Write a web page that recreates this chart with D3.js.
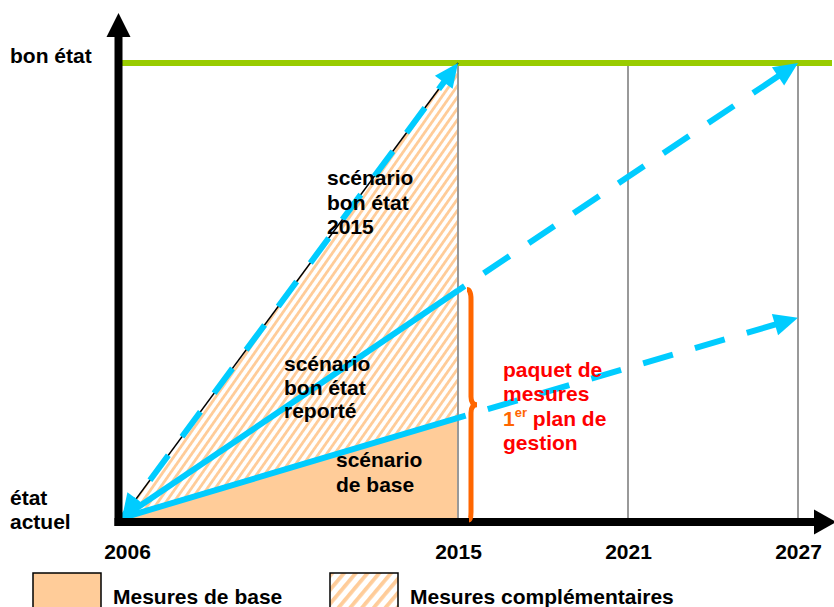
<!DOCTYPE html>
<html><head><meta charset="utf-8">
<script src="https://cdn.jsdelivr.net/npm/d3@7/dist/d3.min.js"></script>
<style>
body{margin:0;background:#fff}
svg{display:block}
text{font-family:"Liberation Sans",Arial,sans-serif;font-weight:bold;font-size:21px}
</style>
</head><body>
<svg id="c" width="834" height="607"></svg>
<script>
// ---- data ----
const years = [2006, 2015, 2021, 2027];
const tickLabels = ["2006", "2015", "2021", "2027"];
const goodStateValue = 100;
const currentStateValue = 0;
const scen2015Years = [2006, 2015];
const scen2015Values = [0, 100];
const scenYears = [2006, 2015, 2027];
const reporteValues = [0, 50, 100];
const baseValues = [0, 22, 44];
const labelGood = ["bon état"];
const labelCurrent = ["état", "actuel"];
const labelScen2015 = ["scénario", "bon état", "2015"];
const labelReporte = ["scénario", "bon état", "reporté"];
const labelBase = ["scénario", "de base"];
const legendLabels = ["Mesures de base", "Mesures complémentaires"];

// ---- setup ----
const svg = d3.select("#c");
const x = d3.scaleLinear().domain(years).range([122, 458, 628, 798]);
const y = d3.scaleLinear().domain([0, 100]).range([518, 63]);
const CYAN = "#00CCFF", PEACH = "#FFCC99", ORANGE = "#FF6600";

const defs = svg.append("defs");
function hatch(id, period, angle, sw) {
  const p = defs.append("pattern").attr("id", id).attr("patternUnits", "userSpaceOnUse")
    .attr("width", period).attr("height", period).attr("patternTransform", `rotate(${angle})`);
  p.append("rect").attr("width", period).attr("height", period).attr("fill", "#fff");
  p.append("rect").attr("width", sw).attr("height", period).attr("fill", PEACH);
}
hatch("hatch", 6.5, 35, 2.8);
hatch("hatchLeg", 9, 40, 3.8);

const line = d3.line().x(d => x(d[0])).y(d => y(d[1]));
const zip = (a, b) => a.map((v, i) => [v, b[i]]);

// fills
svg.append("path").attr("fill", "url(#hatch)")
  .attr("d", line([[2006, 0], [2015, scen2015Values[1]], [2015, baseValues[1]]]) + "Z");
svg.append("path").attr("fill", PEACH)
  .attr("d", line([[2006, 0], [2015, baseValues[1]], [2015, 0]]) + "Z");

// gridlines
svg.append("g").selectAll("line").data(years.slice(1)).join("line")
  .attr("x1", d => x(d)).attr("x2", d => x(d))
  .attr("y1", y(goodStateValue)).attr("y2", y(0))
  .attr("stroke", "#999").attr("stroke-width", 2);

// good state line
svg.append("line").attr("x1", x(2006)).attr("x2", 832)
  .attr("y1", y(goodStateValue)).attr("y2", y(goodStateValue))
  .attr("stroke", "#99CC00").attr("stroke-width", 6);

// thin black under 2015 scenario
svg.append("path").attr("d", line(zip(scen2015Years, scen2015Values)))
  .attr("stroke", "#000").attr("stroke-width", 1.5).attr("fill", "none");

// arrow helper
const AL = 24, AW = 22;
function head(p1, u, L = AL, W = AW) {
  const b = [p1[0] - u[0] * L, p1[1] - u[1] * L];
  const n = [-u[1], u[0]];
  svg.append("path").attr("fill", CYAN).attr("d",
    `M${p1[0]},${p1[1]}L${b[0] + n[0] * W / 2},${b[1] + n[1] * W / 2}L${b[0] - n[0] * W / 2},${b[1] - n[1] * W / 2}Z`);
}
function dir(p0, p1) {
  const dx = p1[0] - p0[0], dy = p1[1] - p0[1], l = Math.hypot(dx, dy);
  return [dx / l, dy / l];
}
function dashedArrow(p0, p1, offset, startHead) {
  const u = dir(p0, p1);
  const e = [p1[0] - u[0] * (AL - 3), p1[1] - u[1] * (AL - 3)];
  svg.append("path").attr("d", `M${p0[0]},${p0[1]}L${e[0]},${e[1]}`)
    .attr("stroke", CYAN).attr("stroke-width", 6).attr("fill", "none")
    .attr("stroke-dasharray", "31,23").attr("stroke-dashoffset", offset);
  head(p1, u);
  if (startHead) head(p0, [-u[0], -u[1]]);
}

// scenario bon état 2015
const s0 = [x(scen2015Years[0]), y(scen2015Values[0])];
const s1 = [x(scen2015Years[1]), y(scen2015Values[1])];
dashedArrow(s0, s1, 7, true);

// reporté & base
[reporteValues, baseValues].forEach(vals => {
  const pts = zip(scenYears, vals);
  svg.append("path").attr("d", line(pts.slice(0, 2)))
    .attr("stroke", CYAN).attr("stroke-width", 6).attr("fill", "none");
  dashedArrow([x(pts[1][0]), y(pts[1][1])], [x(pts[2][0]), y(pts[2][1])], 23, false);
});

// axes
const ax = svg.append("g");
ax.append("line").attr("x1", 118.5).attr("x2", 118.5).attr("y1", 30).attr("y2", 526)
  .attr("stroke", "#000").attr("stroke-width", 8);
ax.append("path").attr("d", "M118.5,13L130.5,37L106.5,37Z").attr("fill", "#000");
ax.append("line").attr("x1", 114.5).attr("x2", 820).attr("y1", 522).attr("y2", 522)
  .attr("stroke", "#000").attr("stroke-width", 8);
ax.append("path").attr("d", "M836,522L814,509.5L814,534.5Z").attr("fill", "#000");

const xAxis = d3.axisBottom(x).tickValues(years).tickSize(0).tickFormat((d, i) => tickLabels[i]);
const gx = svg.append("g").attr("transform", "translate(0,540)").call(xAxis);
gx.select(".domain").remove();
gx.selectAll("text").attr("font-size", 21).attr("fill", "#000")
  .attr("font-family", '"Liberation Sans",Arial,sans-serif').attr("dy", "0.77em")
  .attr("dx", (d, i) => i === 0 ? 5 : 0);

// brace
const bx = x(2015) + 13;
const yt = y(reporteValues[1]) - 1, yb = y(0) + 2, ym = (yt + yb) / 2;
svg.append("path").attr("fill", "none").attr("stroke", ORANGE).attr("stroke-width", 5)
  .attr("d", `M${bx - 4},${yt} Q${bx},${yt} ${bx},${yt + 10} L${bx},${ym - 8} Q${bx},${ym} ${bx + 6},${ym}` +
    ` Q${bx},${ym} ${bx},${ym + 8} L${bx},${yb - 8} Q${bx},${yb} ${bx - 2},${yb}`);

// texts
function multi(lines, tx, ty, lh, fill = "#000") {
  const t = svg.append("text").attr("x", tx).attr("y", ty).attr("fill", fill);
  lines.forEach((l, i) => t.append("tspan").attr("x", tx).attr("y", ty + i * lh).text(l));
}
multi(labelGood, 10, y(goodStateValue));
multi(labelCurrent, 10, 505, 24);
multi(labelScen2015, 327, 185, 24.5);
multi(labelReporte, 284, 371, 23.5);
multi(labelBase, 336, 467, 25);

const red = svg.append("text").attr("fill", "#FF0000");
red.append("tspan").attr("x", 503).attr("y", 377).text("paquet de");
red.append("tspan").attr("x", 503).attr("y", 401).text("mesures");
red.append("tspan").attr("x", 503).attr("y", 426).attr("fill", ORANGE).text("1");
red.append("tspan").attr("fill", ORANGE).attr("font-size", 13).attr("dy", -9).text("er");
red.append("tspan").attr("dy", 9).text(" plan de");
red.append("tspan").attr("x", 503).attr("y", 450).text("gestion");

// legend
svg.append("rect").attr("x", 33).attr("y", 573).attr("width", 68).attr("height", 40)
  .attr("fill", PEACH).attr("stroke", "#000").attr("stroke-width", 1.5);
svg.append("rect").attr("x", 330).attr("y", 573).attr("width", 68).attr("height", 40)
  .attr("fill", "url(#hatchLeg)").attr("stroke", "#000").attr("stroke-width", 1.5);
svg.append("text").attr("x", 113).attr("y", 604).text(legendLabels[0]);
svg.append("text").attr("x", 410).attr("y", 604).text(legendLabels[1]);
</script>
</body></html>
